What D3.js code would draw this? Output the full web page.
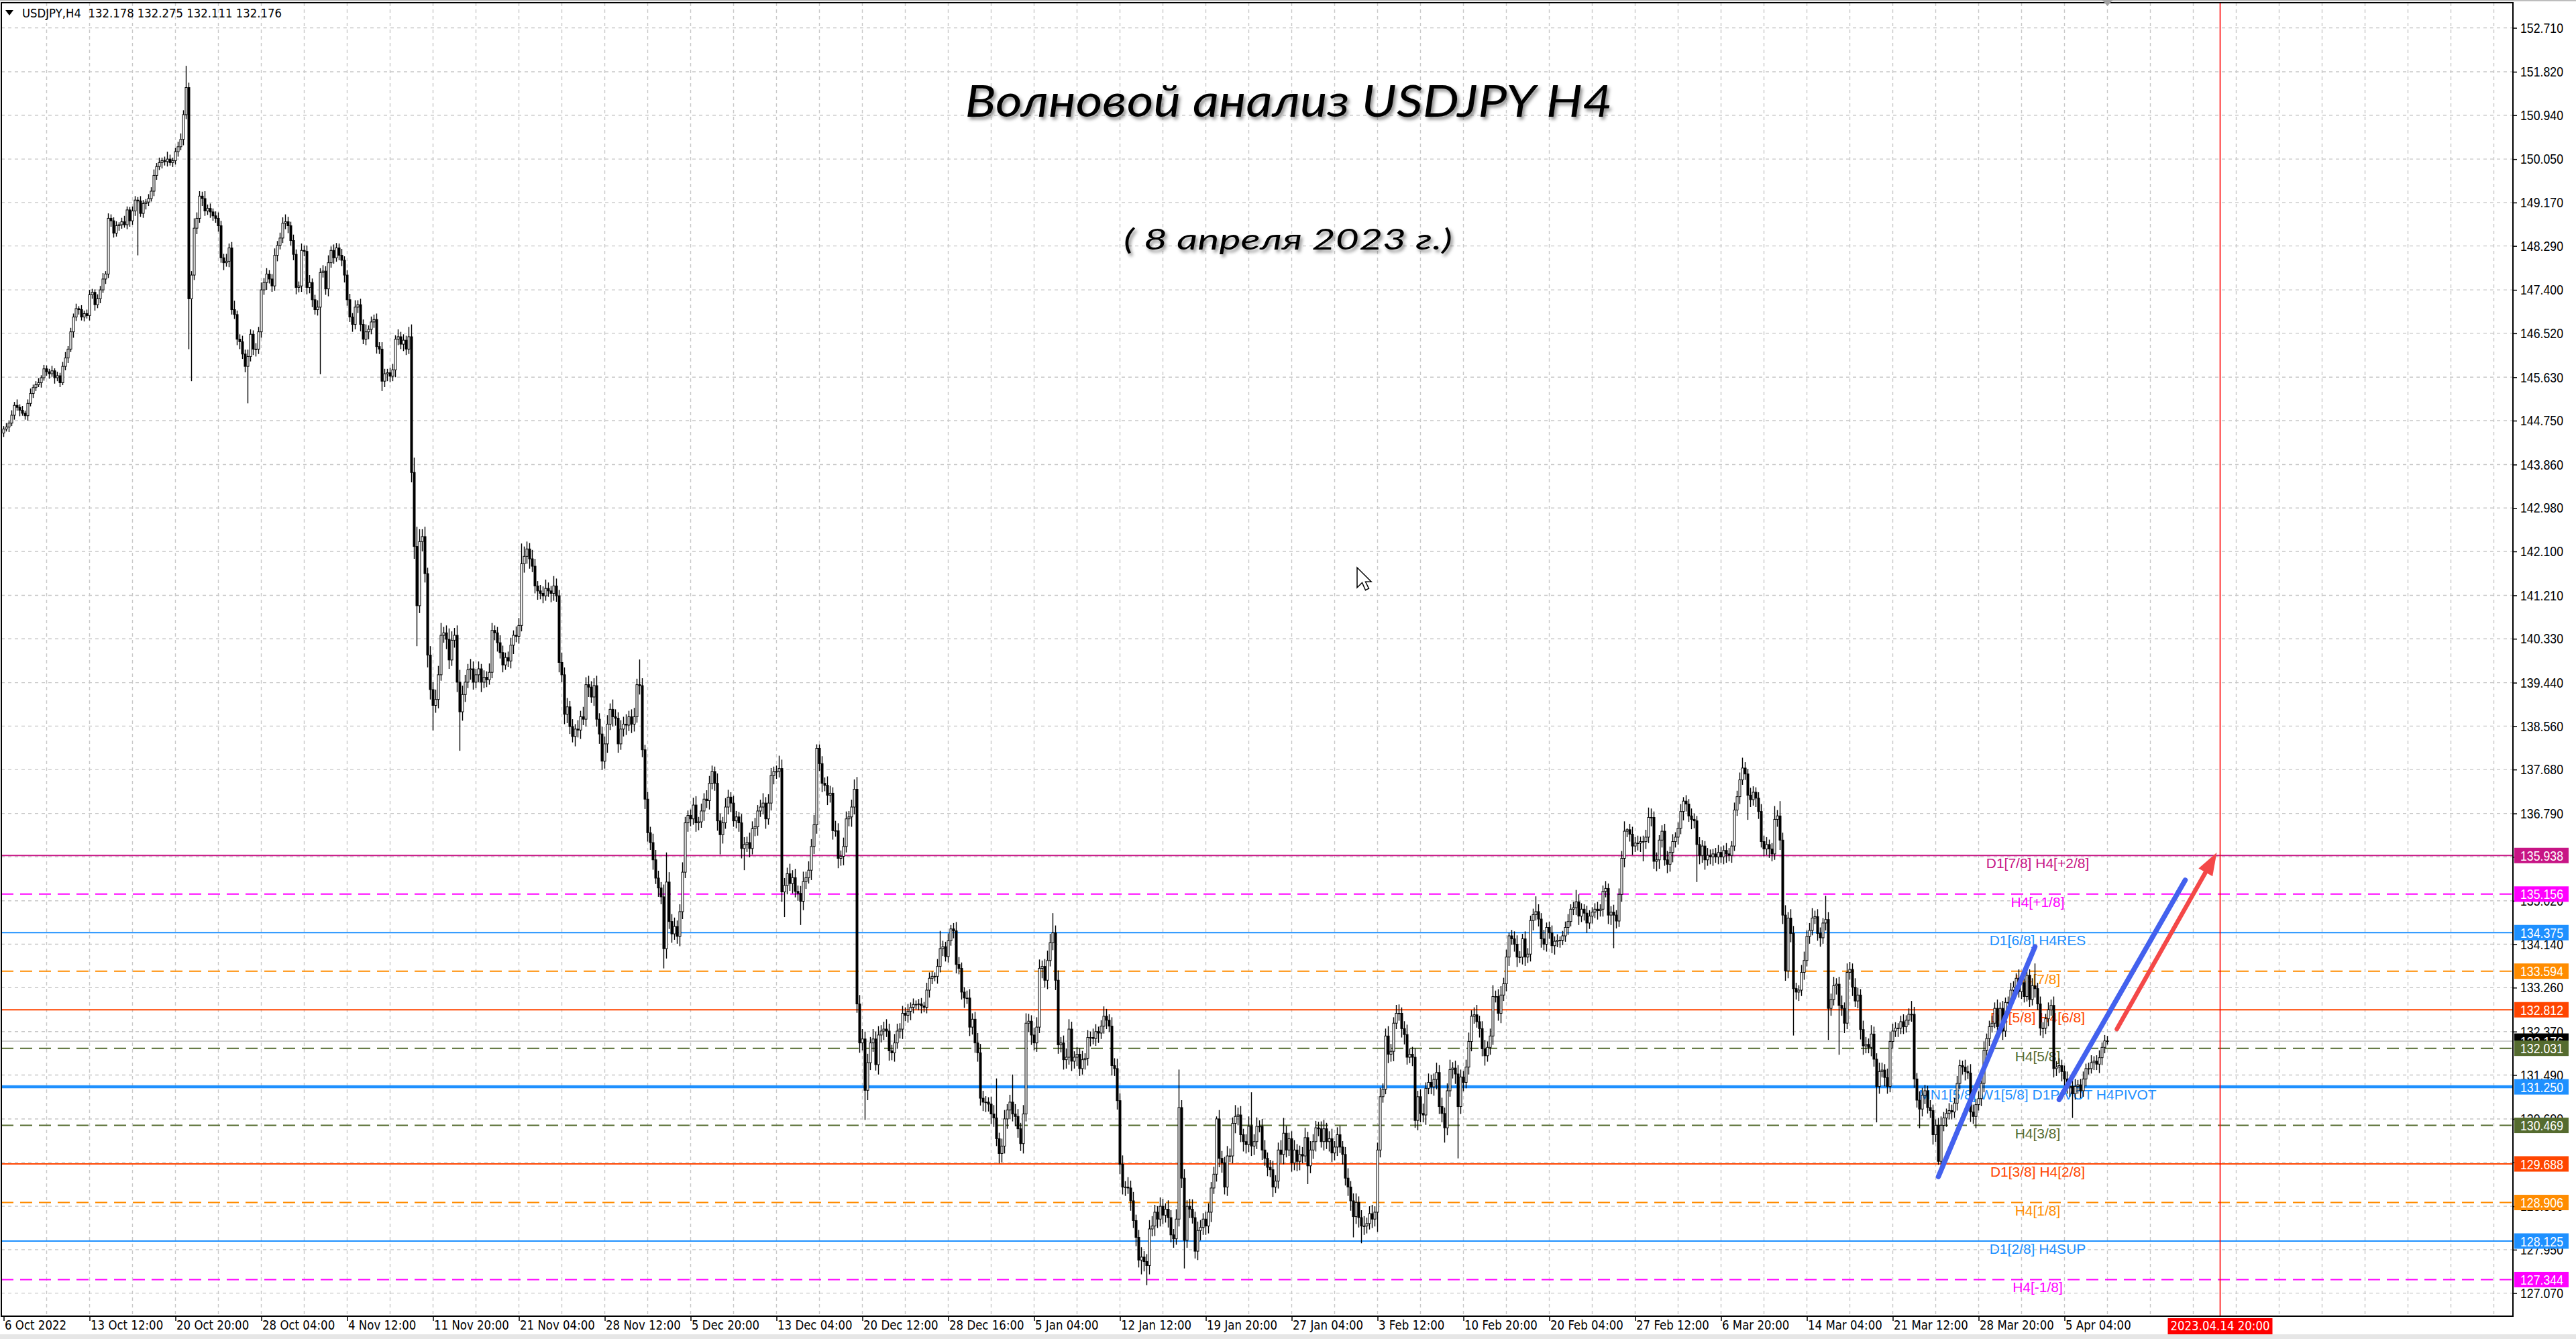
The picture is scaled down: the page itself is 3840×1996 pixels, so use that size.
<!DOCTYPE html>
<html><head><meta charset="utf-8">
<script src="https://cdn.jsdelivr.net/npm/d3@7"></script>
<style>html,body{margin:0;padding:0;background:#fff;overflow:hidden}svg{display:block}</style>
</head><body><svg id="c" width="3840" height="1996"></svg>
<script>
// ---------------- DATA ----------------
const symbolHeader = "USDJPY,H4  132.178 132.275 132.111 132.176";
const titleText = "Волновой анализ USDJPY H4";
const subtitleText = "( 8 апреля 2023 г.)";
const firstOpen = 144.50;
const closes = [
144.58,144.62,144.70,144.86,145.06,145.02,144.96,144.90,144.85,145.10,145.30,145.42,145.48,145.52,145.62,145.80,
145.74,145.70,145.76,145.62,145.66,145.52,145.85,146.02,146.20,146.55,146.85,147.02,147.00,146.85,146.92,146.88,
147.30,147.35,147.10,147.22,147.40,147.62,147.72,148.85,148.80,148.55,148.70,148.72,148.78,148.72,149.02,148.80,
149.00,149.22,149.20,148.95,149.15,149.18,149.25,149.40,149.72,149.90,149.98,150.02,150.00,150.05,149.98,150.02,
150.20,150.30,150.45,150.95,151.50,147.22,147.70,148.65,148.85,149.30,149.25,149.00,149.05,148.98,148.90,148.85,
148.70,148.05,147.95,147.98,148.25,147.00,146.90,146.40,146.35,146.10,145.85,146.05,146.50,146.20,146.20,146.55,
147.40,147.55,147.72,147.62,147.48,148.10,148.30,148.45,148.75,148.78,148.70,148.40,148.12,147.45,147.48,148.20,
148.18,147.45,147.55,147.20,147.00,147.05,147.75,147.78,147.42,147.95,148.20,148.05,148.25,148.10,148.00,147.70,
147.20,146.85,146.70,147.05,147.10,146.70,146.40,146.55,146.60,146.75,146.80,146.25,146.20,145.55,145.70,145.72,
145.65,145.78,146.40,146.45,146.30,146.38,146.20,146.45,143.70,142.20,141.00,142.30,142.40,141.65,140.00,139.30,
138.98,139.10,139.60,140.40,140.45,140.32,139.90,140.30,140.40,139.45,138.85,139.20,139.45,139.70,139.72,139.45,
139.60,139.72,139.45,139.55,139.50,139.65,140.50,140.45,140.25,140.05,139.80,139.95,139.88,140.20,140.40,140.38,
140.60,141.85,142.00,142.15,141.95,141.80,141.40,141.30,141.25,141.20,141.35,141.30,141.25,141.40,141.20,139.85,
139.60,138.80,138.95,138.55,138.35,138.50,138.48,138.75,138.70,139.40,139.35,139.15,139.38,138.70,138.40,137.85,
138.20,138.60,138.90,138.75,138.72,138.20,138.50,138.60,138.58,138.75,138.60,138.75,139.40,139.38,138.08,137.08,
136.40,136.20,135.85,135.48,135.28,135.10,134.05,135.40,134.60,134.35,134.50,134.30,134.80,135.60,136.60,136.75,
136.68,136.96,136.60,136.62,136.84,137.08,137.05,137.40,137.64,137.40,136.64,136.36,136.60,136.92,137.12,137.00,
136.64,136.72,136.60,136.08,136.16,136.20,136.08,136.48,136.52,136.84,136.92,137.00,136.68,137.00,137.56,137.64,
137.64,137.70,135.20,135.33,135.57,135.37,135.49,135.21,135.17,135.01,135.41,135.49,135.64,136.12,136.56,138.11,
137.80,137.40,137.36,137.16,137.20,136.44,136.44,135.88,135.92,136.12,136.68,136.72,136.92,137.28,132.93,132.14,
132.22,131.18,131.74,132.14,132.22,131.70,132.30,132.38,132.42,132.38,131.98,131.94,132.14,132.38,132.42,132.74,
132.70,132.78,132.86,132.92,132.92,132.93,132.89,132.86,133.21,133.45,133.49,133.49,133.69,134.05,134.09,133.89,
134.21,134.45,134.41,133.73,133.65,133.17,133.05,133.05,132.46,132.62,132.14,131.94,131.02,130.94,130.94,130.90,
130.70,130.62,130.20,129.90,130.05,130.60,130.78,130.94,130.70,130.65,130.40,130.10,130.70,132.54,132.58,132.30,
132.14,132.46,133.65,133.69,133.41,133.81,134.17,134.37,133.41,132.10,132.14,131.80,131.85,132.42,131.77,131.85,
131.91,131.62,131.80,131.83,132.25,132.25,132.23,132.37,132.34,132.48,132.68,132.60,132.48,131.68,131.62,130.97,
129.68,129.22,129.22,129.20,128.94,128.54,128.20,127.74,127.80,127.71,127.63,128.37,128.43,128.71,128.57,128.83,
128.65,128.77,128.60,128.25,128.17,128.57,130.83,129.40,128.14,128.83,128.77,128.60,127.92,128.34,128.40,128.57,
128.43,128.71,129.20,129.48,130.60,129.80,129.71,129.22,129.85,129.85,130.51,130.65,130.68,130.28,130.14,130.08,
130.45,130.05,130.14,130.45,130.45,129.97,129.80,129.62,129.57,129.22,129.34,129.97,129.88,130.31,129.97,130.20,
129.71,129.97,129.74,129.88,129.85,130.22,129.65,129.97,130.14,130.42,130.40,130.14,130.40,130.14,130.20,129.91,
130.03,130.28,130.03,129.88,129.40,129.22,128.94,128.62,128.91,128.60,128.43,128.43,128.48,128.68,128.57,128.71,
129.97,131.05,131.20,132.28,131.91,131.97,132.54,132.74,132.74,132.43,132.31,131.85,131.91,131.85,130.57,131.05,
130.71,130.68,131.22,131.34,131.25,131.40,131.54,130.85,130.71,130.42,131.17,131.60,131.63,131.51,130.85,131.45,
131.34,131.65,132.17,132.68,132.71,132.57,132.43,132.02,131.88,132.05,132.28,133.08,133.08,132.74,133.11,133.34,
133.88,134.31,134.25,134.14,133.88,133.88,134.25,133.88,133.94,134.62,134.74,134.80,134.65,134.25,134.14,134.48,
134.37,134.11,134.20,134.22,134.22,134.31,134.48,134.60,134.85,134.88,135.00,134.71,134.85,134.77,134.57,134.71,
134.79,134.85,134.82,134.85,135.21,135.27,134.73,134.79,134.73,134.61,135.15,135.88,136.43,136.46,136.37,136.13,
136.19,136.19,136.22,136.22,136.31,136.71,136.71,135.82,135.85,136.25,136.43,135.85,135.76,136.00,136.22,136.31,
136.49,136.83,137.04,136.98,136.74,136.67,136.64,136.16,135.94,136.13,135.85,135.94,135.91,135.97,135.91,136.00,
135.91,136.04,135.97,135.94,136.13,136.86,137.13,137.47,137.71,137.59,137.16,137.07,137.22,137.10,136.83,136.22,
136.07,136.16,136.07,135.97,136.67,136.74,136.25,134.73,133.60,134.67,134.36,133.24,133.17,133.21,133.57,133.81,
134.30,134.42,134.67,134.70,134.36,134.27,134.57,134.64,132.84,133.02,133.30,133.33,132.90,132.84,132.54,133.57,
133.63,133.27,132.99,133.11,132.41,132.08,132.11,132.05,132.32,131.81,131.26,131.56,131.59,131.44,131.26,132.17,
132.38,132.44,132.44,132.57,132.47,132.60,132.72,132.72,131.41,130.98,130.80,131.08,131.17,130.83,130.77,130.28,
130.47,129.74,130.47,130.62,130.71,130.77,130.74,130.92,131.32,131.68,131.65,131.56,131.53,130.74,130.65,130.89,
131.01,131.32,131.99,132.23,132.47,132.54,132.84,132.47,132.84,132.38,132.96,132.96,133.21,133.27,133.45,133.18,
133.36,133.08,133.51,133.02,133.30,133.24,132.93,132.44,132.44,132.63,132.81,132.90,131.62,131.65,131.68,131.56,
131.41,131.23,131.26,131.11,131.26,131.29,131.17,131.41,131.62,131.62,131.74,131.77,131.71,131.84,132.05,132.18,132.176
];
// upper / lower shadow beyond the body, in hundredths of a yen
const hiExt = [
6,8,5,10,7,12,6,9,5,8,10,6,7,9,5,8, 7,6,10,5,8,6,9,12,6,8,7,10,5,9,6,8,
10,7,6,9,8,12,6,10,8,7,9,5,8,12,7,6, 9,8,6,10,7,6,9,8,12,7,10,6,8,15,9,6,
8,10,12,9,44,10,8,20,12,10,9,15,8,10,7,9, 12,10,8,15,9,12,18,8,10,12,9,14,10,8,12,10,
15,9,12,8,10,14,9,11,12,15,10,8,12,10,9,14, 10,12,15,8,10,14,9,12,10,15,8,12,10,9,13,8,
10,12,8,14,9,12,10,15,8,11,10,12,9,14,10,8, 10,12,8,15,10,12,9,20,25,30,40,25,15,20,12,18,
15,20,18,25,12,15,22,18,15,20,25,18,15,12,20,15, 12,15,10,14,12,18,15,10,12,15,14,10,12,15,10,18,
15,41,20,15,12,18,15,10,12,14,18,12,10,20,15,12, 20,15,18,12,15,10,18,12,20,15,18,12,15,20,12,15,
15,18,12,20,15,12,18,15,20,12,15,18,12,51,15,10, 15,12,18,20,15,12,25,60,20,15,18,12,15,20,12,10,
12,15,18,10,15,12,18,15,12,10,20,15,12,18,15,10, 15,12,10,18,15,12,20,15,18,12,15,20,12,18,15,10,
12,26,18,15,12,20,15,18,12,15,20,12,18,15,20,8, 8,15,12,18,15,12,20,15,12,18,15,12,15,20,25,18,
20,15,18,12,20,15,18,12,15,20,15,12,18,15,12,15, 12,15,10,12,8,10,12,8,15,12,10,8,15,36,12,10,
15,8,12,18,15,12,10,15,18,12,15,20,18,15,12,10, 15,18,80,12,15,18,12,15,56,20,15,12,18,20,15,12,
15,20,18,12,15,20,18,40,15,20,12,15,18,20,15,12, 15,12,18,10,15,12,18,15,10,12,20,15,12,18,15,20,
15,18,12,20,15,18,12,15,20,12,15,18,20,15,12,18, 15,12,18,15,12,20,77,15,18,12,15,20,12,18,15,12,
15,18,12,15,5,18,15,12,20,15,12,23,15,18,12,15, 20,69,15,18,12,15,20,12,15,18,12,15,20,31,15,12,
15,20,12,18,15,20,12,18,15,14,12,15,18,12,15,20, 12,15,18,12,15,20,12,15,18,12,15,20,12,15,18,12,
15,18,12,15,20,15,12,17,18,12,15,20,12,15,18,12, 15,20,12,18,15,12,20,15,18,12,15,20,12,15,18,15,
12,15,18,12,15,20,12,15,18,12,15,23,12,15,18,12, 15,6,12,15,18,12,10,15,12,10,12,31,15,12,18,10,
12,15,10,12,8,10,12,15,10,12,24,15,12,10,15,12, 10,12,15,10,12,15,10,12,15,10,12,15,20,3,12,15,
12,15,10,12,15,20,18,12,15,10,12,15,18,12,15,10, 12,15,8,12,10,15,12,10,15,12,10,15,12,10,12,15,
12,10,15,12,10,15,12,15,21,12,10,15,12,10,12,15, 12,15,10,12,27,12,30,15,20,12,18,15,12,10,15,18,
12,15,20,12,15,12,10,48,15,12,18,12,15,20,12,18, 15,12,18,15,12,18,15,12,18,15,12,18,15,12,18,20,
15,12,10,12,15,10,12,27,15,12,18,15,12,10,15,12, 12,15,18,12,10,15,12,10,15,12,10,15,12,18,15,12,
15,12,18,10,12,15,12,18,12,15,10,12,15,12,10,18, 12,15,21,12,15,45,12,15,12,10,15,12,18,12,15,12,
12,15,10,12,15,10,12,15,10,12,15,10,12,15,10,12,10
];
const loExt = [
8,5,10,6,9,7,12,5,8,10,6,9,7,5,10,6, 8,10,6,12,7,9,5,8,10,6,12,8,10,7,9,6,
10,8,12,7,9,6,10,8,12,9,7,10,8,6,9,12, 8,10,110,7,9,12,8,6,10,9,7,12,8,10,6,9,
8,10,7,12,9,102,167,10,12,9,15,10,8,12,10,9, 12,10,15,8,12,10,9,12,15,10,12,75,10,12,15,10,
12,10,15,9,12,10,12,8,10,12,15,10,12,14,10,12, 10,14,12,15,10,12,136,10,12,15,10,12,8,10,12,15,
12,10,15,10,12,14,10,12,15,10,12,14,10,20,12,15, 12,10,15,12,10,14,12,10,20,25,82,15,20,18,25,20,
51,15,18,12,15,20,18,12,15,20,79,18,15,12,20,15, 12,15,20,12,15,10,12,15,18,12,15,10,12,15,18,12,
15,12,18,15,20,12,15,18,12,15,10,12,18,15,12,20, 15,20,18,15,12,20,15,18,12,15,20,12,18,15,20,18,
15,18,12,20,15,18,12,15,20,12,18,15,12,18,15,20, 18,15,20,12,18,15,40,20,15,18,12,15,20,15,12,18,
15,12,18,15,12,20,15,18,12,15,20,40,18,12,15,18, 12,15,18,20,44,15,18,12,15,18,12,15,20,12,15,18,
15,12,20,51,18,15,20,12,15,48,18,15,12,20,15,18, 15,18,12,20,15,18,12,20,15,18,12,15,20,15,18,20,
15,60,20,15,18,12,20,15,18,12,20,15,18,12,15,20, 12,15,18,12,10,12,15,10,12,15,12,10,15,12,15,10,
12,10,15,18,12,15,20,12,18,15,20,18,15,18,20,15, 20,18,15,20,18,15,20,18,15,20,18,15,20,15,18,20,
15,18,12,20,15,18,12,15,20,18,15,20,18,15,20,15, 18,15,12,20,15,18,12,15,20,12,15,18,12,20,15,18,
20,15,18,12,20,15,18,15,29,20,40,18,15,20,18,15, 18,15,20,15,18,12,15,20,57,15,18,12,15,18,20,15,
18,15,20,12,15,18,20,15,18,12,15,20,18,15,20,18, 15,20,18,15,12,20,15,18,15,20,12,15,18,20,15,12,
18,15,20,18,15,12,37,15,18,20,15,12,18,15,20,18, 15,18,12,20,15,18,20,42,15,20,35,18,15,12,18,15,
40,15,12,10,18,15,20,12,15,18,20,15,12,18,15,20, 18,15,20,12,15,18,20,15,18,30,15,12,18,20,105,15,
18,12,15,20,15,12,18,15,20,12,15,18,12,15,20,12, 15,18,12,15,20,12,15,18,12,15,20,12,15,18,12,15,
12,15,18,12,15,10,12,15,10,12,15,18,12,15,20,12, 15,12,18,12,15,12,18,20,67,15,12,15,18,12,15,18,
12,15,18,40,15,12,18,15,20,18,15,12,18,15,20,12, 15,12,18,15,12,20,15,76,18,15,20,12,15,18,12,15,
12,15,18,12,15,10,12,15,10,12,50,15,12,18,15,12, 15,12,18,15,12,15,20,18,20,15,18,95,15,18,12,15,
12,15,10,12,15,18,12,15,64,15,12,18,100,15,20,12, 15,18,12,15,20,18,15,12,18,15,73,15,12,18,15,12,
15,12,18,12,15,12,10,15,18,15,39,15,18,12,15,20, 15,7,15,12,18,12,15,12,15,12,15,18,12,20,15,24,
12,15,18,12,15,12,10,15,12,18,12,15,12,10,15,12, 15,12,10,15,12,18,12,15,20,12,15,12,18,15,12,20,
15,12,18,49,12,15,15,12,15,12,10,15,12,18,15,12,7
];
const timeLabelBars = [0,32,64,96,128,160,192,224,256,288,320,352,384,416,448,480,512,544,576,608,640,672,704,736,768];
const timeLabels = ["6 Oct 2022","13 Oct 12:00","20 Oct 20:00","28 Oct 04:00","4 Nov 12:00","11 Nov 20:00","21 Nov 04:00","28 Nov 12:00","5 Dec 20:00","13 Dec 04:00","20 Dec 12:00","28 Dec 16:00","5 Jan 04:00","12 Jan 12:00","19 Jan 20:00","27 Jan 04:00","3 Feb 12:00","10 Feb 20:00","20 Feb 04:00","27 Feb 12:00","6 Mar 20:00","14 Mar 04:00","21 Mar 12:00","28 Mar 20:00","5 Apr 04:00"];
const futureBar = 826;
const futureLabel = "2023.04.14 20:00";
const priceTicks = [152.710,151.820,150.940,150.050,149.170,148.290,147.400,146.520,145.630,144.750,143.860,142.980,142.100,141.210,140.330,139.440,138.560,137.680,136.790,135.910,135.020,134.140,133.260,132.370,131.490,130.600,129.720,128.830,127.950,127.070];
const levelPrices = [135.938,135.156,134.375,133.594,132.812,132.031,131.250,130.469,129.688,128.906,128.125,127.344];
const levelNames = ["D1[7/8] H4[+2/8]","H4[+1/8]","D1[6/8] H4RES","H4[7/8]","D1[5/8] H4[6/8]","H4[5/8]","MN1[5/8] W1[5/8] D1PIVOT H4PIVOT","H4[3/8]","D1[3/8] H4[2/8]","H4[1/8]","D1[2/8] H4SUP","H4[-1/8]"];
const levelColors = ["#C71585","#FF00FF","#1E90FF","#FF8C00","#FF4500","#556B2F","#1E90FF","#556B2F","#FF4500","#FF8C00","#1E90FF","#FF00FF"];
const levelDashed = [false,true,false,true,false,true,false,true,false,true,false,true];
const levelLabelBar = 758;
const currentPrice = 132.176;
// hand-drawn wave lines: [bar, price] end points
const waveLines = [[[721,129.43],[757,134.09]],[[766,130.99],[813,135.44]]];
const forecastArrow = [[787.5,132.42],[824.75,136.00]];

// ---------------- LAYOUT ----------------
const W = 3840, H = 1996;
const L = 2, T = 4, R = 3746, B = 1962;
const svg = d3.select("#c");
const x = d3.scaleLinear().domain([0, 784]).range([5.5, 5.5 + 784 * 4]);
const y = d3.scaleLinear().domain([127.07, 152.71]).range([1927.6, 41.5]);
const AX = "DejaVu Sans";
const PX = "Liberation Sans, Arial, sans-serif";

const defs = svg.append("defs");
const f = defs.append("filter").attr("id","sh").attr("x","-5%").attr("y","-20%").attr("width","110%").attr("height","150%");
f.append("feDropShadow").attr("dx",3).attr("dy",4).attr("stdDeviation",2.5).attr("flood-color","#000").attr("flood-opacity",0.45);

svg.append("rect").attr("width",W).attr("height",H).attr("fill","#fff");
svg.append("rect").attr("x",0).attr("y",0).attr("width",W).attr("height",2).attr("fill","#bdbdbd");
svg.append("rect").attr("x",0).attr("y",1989).attr("width",W).attr("height",7).attr("fill","#e6e6e6");

// grid
const grid = svg.append("g").attr("stroke","#c8c8c8").attr("stroke-width",1.4).attr("stroke-dasharray","5,5");
const vBars = d3.range(16, 1000, 16).filter(b => x(b) < R - 2);
grid.selectAll("line.v").data(vBars).join("line").attr("class","v")
  .attr("x1",d=>x(d)).attr("x2",d=>x(d)).attr("y1",T).attr("y2",B);
grid.selectAll("line.h").data(priceTicks).join("line").attr("class","h")
  .attr("x1",L).attr("x2",R).attr("y1",d=>y(d)).attr("y2",d=>y(d));

// level lines
const lv = svg.append("g");
lv.append("line").attr("x1",L).attr("x2",R).attr("y1",y(currentPrice)).attr("y2",y(currentPrice))
  .attr("stroke","#c0c0c0").attr("stroke-width",1.6);
levelPrices.forEach((p,i)=>{
  lv.append("line").attr("x1",L).attr("x2",R).attr("y1",y(p)).attr("y2",y(p))
    .attr("stroke",levelColors[i])
    .attr("stroke-width", p === 131.25 ? 4.5 : 2)
    .attr("stroke-dasharray", levelDashed[i] ? "18,10" : null);
});
// level labels
levelPrices.forEach((p,i)=>{
  lv.append("text").attr("x",x(levelLabelBar)).attr("y",y(p)+19)
    .attr("text-anchor","middle").attr("font-family",PX)
    .attr("font-size",21).attr("fill",levelColors[i]).text(levelNames[i]);
});

// candles
const bars = closes.map((c,i)=>{
  const o = i === 0 ? firstOpen : closes[i-1];
  return {i, o, c, h: Math.max(o,c) + hiExt[i]/100, l: Math.min(o,c) - loExt[i]/100};
});
const cg = svg.append("g");
cg.selectAll("line").data(bars).join("line")
  .attr("x1",d=>x(d.i)).attr("x2",d=>x(d.i)).attr("y1",d=>y(d.h)).attr("y2",d=>y(d.l))
  .attr("stroke","#000").attr("stroke-width",1.4);
cg.selectAll("rect").data(bars).join("rect")
  .attr("x",d=>x(d.i)-1.5).attr("width",3)
  .attr("y",d=>y(Math.max(d.o,d.c)))
  .attr("height",d=>Math.max(0.8, y(Math.min(d.o,d.c)) - y(Math.max(d.o,d.c))))
  .attr("fill",d=>d.c >= d.o ? "#fff" : "#000").attr("stroke","#000").attr("stroke-width",1);

// future time line
svg.append("line").attr("x1",x(futureBar)).attr("x2",x(futureBar)).attr("y1",T).attr("y2",B)
  .attr("stroke","#ff0000").attr("stroke-width",1.6);

// wave lines
const wg = svg.append("g");
waveLines.forEach(seg=>{
  wg.append("line").attr("x1",x(seg[0][0])).attr("y1",y(seg[0][1])).attr("x2",x(seg[1][0])).attr("y2",y(seg[1][1]))
    .attr("stroke","#4361EE").attr("stroke-width",7.5).attr("stroke-linecap","round");
});
{
  const x0 = x(forecastArrow[0][0]), y0 = y(forecastArrow[0][1]);
  const x1 = x(forecastArrow[1][0]), y1 = y(forecastArrow[1][1]);
  const dx = x1-x0, dy = y1-y0, len = Math.hypot(dx,dy);
  const ux = dx/len, uy = dy/len, nx = -uy, ny = ux;
  const hl = 34, hw = 12;
  const bx = x1 - ux*hl, by = y1 - uy*hl;
  wg.append("line").attr("x1",x0).attr("y1",y0).attr("x2",bx+ux*2).attr("y2",by+uy*2)
    .attr("stroke","#F44848").attr("stroke-width",6.5).attr("stroke-linecap","round");
  wg.append("path").attr("d",`M${x1},${y1}L${bx+nx*hw},${by+ny*hw}L${bx-nx*hw},${by-ny*hw}Z`).attr("fill","#F44848");
}

// border
svg.append("rect").attr("x",L).attr("y",T).attr("width",R-L).attr("height",B-T)
  .attr("fill","none").attr("stroke","#000").attr("stroke-width",2);
// chart shift marker
svg.append("path").attr("d",`M${x(784)-8},0L${x(784)+8},0L${x(784)},9Z`).attr("fill","#a0a0a0");

// price axis
const pa = svg.append("g").attr("transform",`translate(${R},0)`)
  .call(d3.axisRight(y).tickValues(priceTicks).tickFormat(d3.format(".3f")).tickSizeInner(6).tickSizeOuter(0));
pa.select(".domain").remove();
pa.selectAll("line").attr("stroke","#000").attr("stroke-width",1.5);
pa.selectAll("text").attr("x",11).attr("font-family",PX).attr("font-size",21).attr("fill","#000")
  .attr("textLength",64).attr("lengthAdjust","spacingAndGlyphs");

// time axis
const ta = svg.append("g").attr("transform",`translate(0,${B})`)
  .call(d3.axisBottom(x).tickValues(timeLabelBars).tickFormat((d,i)=>timeLabels[i]).tickSizeInner(7).tickSizeOuter(0));
ta.select(".domain").remove();
ta.selectAll("line").attr("stroke","#000").attr("stroke-width",1.5);
ta.selectAll("text").attr("text-anchor","start").attr("x",1).attr("y",6)
  .attr("font-family",AX).attr("font-size",20).attr("fill","#000")
  .each(function(){ const w = this.getComputedTextLength(); this.setAttribute("textLength", (w*0.83).toFixed(1)); this.setAttribute("lengthAdjust","spacingAndGlyphs"); });

// future time label
{
  const fx = x(futureBar);
  svg.append("rect").attr("x",fx-78).attr("y",1965).attr("width",156).attr("height",24).attr("fill","#ff0000");
  const t = svg.append("text").attr("x",fx).attr("y",1983).attr("text-anchor","middle")
    .attr("font-family",AX).attr("font-size",20).attr("fill","#fff").text(futureLabel);
  const w = t.node().getComputedTextLength();
  t.attr("textLength",(w*0.83).toFixed(1)).attr("lengthAdjust","spacingAndGlyphs");
}

// price boxes: current price first, then levels
const boxes = [{p: currentPrice, col: "#000"}].concat(levelPrices.map((p,i)=>({p, col: levelColors[i]})));
const bg = svg.append("g");
boxes.forEach(b=>{
  bg.append("rect").attr("x",R+2).attr("y",y(b.p)-11.5).attr("width",81).attr("height",23).attr("fill",b.col);
  bg.append("text").attr("x",R+11).attr("y",y(b.p)).attr("dy","0.36em")
    .attr("font-family",PX).attr("font-size",21).attr("fill","#fff")
    .attr("textLength",64).attr("lengthAdjust","spacingAndGlyphs").text(d3.format(".3f")(b.p));
});

// header
svg.append("path").attr("d","M8,15L20,15L14,23Z").attr("fill","#000");
svg.append("text").attr("x",33).attr("y",26).attr("font-family",AX).attr("font-size",18)
  .attr("fill","#000").style("white-space","pre").attr("textLength",387).attr("lengthAdjust","spacingAndGlyphs")
  .text(symbolHeader);

// titles
svg.append("text").attr("x",1921).attr("y",174).attr("text-anchor","middle")
  .attr("font-family","Lato, 'Open Sans', sans-serif").attr("font-style","italic").attr("font-size",66)
  .attr("fill","#000").attr("filter","url(#sh)").attr("textLength",965).attr("lengthAdjust","spacingAndGlyphs")
  .text(titleText);
svg.append("text").attr("x",1920).attr("y",372).attr("text-anchor","middle")
  .attr("font-family","Lato, 'Open Sans', sans-serif").attr("font-style","italic").attr("font-size",42)
  .attr("fill","#000").attr("filter","url(#sh)").attr("textLength",490).attr("lengthAdjust","spacingAndGlyphs")
  .text(subtitleText);

// mouse cursor
svg.append("path").attr("transform","translate(2023,846) scale(1.25)")
  .attr("d","M0,0L0,24L6,18L10,27L14,25L10,17L17,17Z")
  .attr("fill","#fff").attr("stroke","#000").attr("stroke-width",1.2);
</script>
</body></html>
